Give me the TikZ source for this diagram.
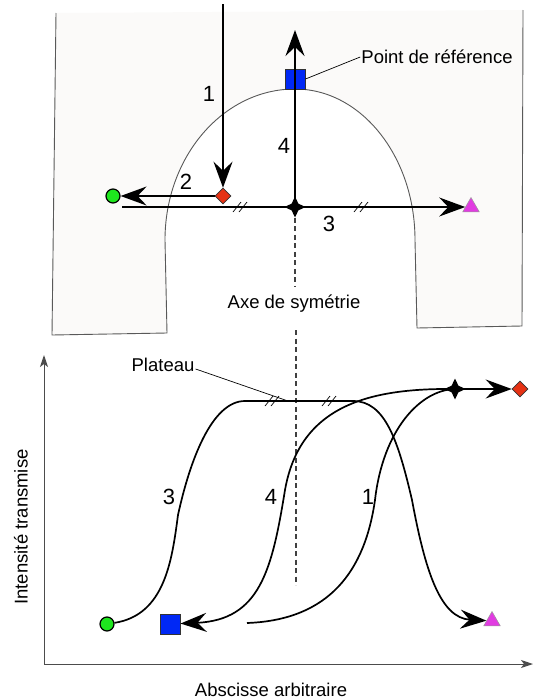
\documentclass[tikz,border=0pt]{standalone}
\usepackage{fontspec}
\setmainfont{Liberation Sans}
\usepackage{xcolor}
\usepackage{tikz}
\usetikzlibrary{arrows.meta, positioning, calc, shapes.geometric}

\definecolor{markgreen}{RGB}{30,230,30}
\definecolor{markblue}{RGB}{0,40,245}
\definecolor{markred}{RGB}{230,50,20}
\definecolor{markpink}{RGB}{225,60,225}
\definecolor{sheet}{RGB}{251,250,249}

\begin{document}
\begin{tikzpicture}[
    x=1pt, y=-1pt,
    every node/.style={font=\fontsize{18.5}{22}\selectfont},
    num/.style={font=\fontsize{22}{26}\selectfont, inner sep=1pt},
    lab/.style={inner sep=1pt},
    ptcirc/.style={circle, draw=black, line width=1.2pt, fill=markgreen, minimum size=14pt, inner sep=0pt},
    ptsq/.style={rectangle, draw=black!80, line width=1pt, fill=markblue, minimum size=20pt, inner sep=0pt},
    ptdia/.style={diamond, draw=black!80, line width=0.6pt, fill=markred, minimum size=16pt, inner sep=0pt},
    pttri/.style={regular polygon, regular polygon sides=3, draw=black!40, line width=0.5pt, fill=markpink, minimum size=19pt, inner sep=0pt},
    ptstar/.style={star, star points=4, star point ratio=2.2, fill=black, minimum size=21pt, inner sep=0pt},
    trace/.style={line width=1.7pt, -{Stealth[length=26pt, width=19pt, inset=9pt]}},
    axis/.style={line width=1pt, draw=black!70, -{Stealth[length=12pt, width=8pt, inset=3pt]}},
    symaxis/.style={line width=1.2pt, draw=black!75, dash pattern=on 5pt off 3.5pt},
    outline/.style={line width=0.9pt, draw=black!65},
    leader/.style={line width=0.7pt},
    hatch/.style={line width=0.7pt}
  ]
  \useasboundingbox (0,0) rectangle (534,699);

  % sample seen from above
  \fill[sheet] (56,13) -- (52,335) -- (167,333) -- (165,240)
    arc[start angle=180, end angle=270, x radius=130, y radius=151]
    arc[start angle=270, end angle=360, x radius=120, y radius=151]
    -- (417,328) -- (522,326) -- (523,10) -- cycle;
  \draw[outline] (56,13) -- (52,335) -- (167,333) -- (165,240)
    arc[start angle=180, end angle=270, x radius=130, y radius=151]
    arc[start angle=270, end angle=360, x radius=120, y radius=151]
    -- (417,328) -- (522,326) -- (523,10);

  \node[ptcirc] (circA) at (113,196) {};
  \node[ptdia] (diaA) at (223,196) {};
  \node[ptstar] (starA) at (295,207) {};
  \node[ptsq] (sqA) at (295,79) {};
  \node[pttri] (triA) at (471,207) {};
  \coordinate (topA) at (223,4);
  \coordinate (startC) at (122,207);
  \coordinate (topD) at (295,30);
  \coordinate (axisA) at (295,287);
  \coordinate (axisB) at (296,330);
  \coordinate (axisC) at (296,585);

  \draw[symaxis] (starA) -- (axisA);
  \draw[symaxis] (axisB) -- (axisC);
  \draw[trace] (topA) -- (diaA);
  \draw[trace] (diaA) -- (circA);
  \draw[trace] (startC) -- (triA);
  \draw[trace] (starA.center) -- (topD);

  \node[num] (n1A) at (209,94) {1};
  \node[num] (n4A) at (284,146) {4};
  \node[num] (n2A) at (186,182) {2};
  \node[num] (n3A) at (329,224) {3};
  \node[lab] (ref) at (437,57) {Point de référence};
  \draw[leader] (sqA.east) -- (ref.west);
  \node[lab] (axlab) at (294,304) {Axe de symétrie};

  % equal distances
  \foreach \hx/\hy in {240/207, 361/207, 272/401, 329/401}
    \foreach \i in {-3,3}
      \draw[hatch] (\hx+\i-4,\hy+5) -- (\hx+\i+4,\hy-5);

  % transmitted intensity
  \coordinate (orig) at (44,664);
  \coordinate (yend) at (44,355);
  \coordinate (xend) at (533,664);
  \draw[axis] (orig) -- (yend);
  \draw[axis] (orig) -- (xend);
  \node[lab, rotate=90] (ylab) at (21,527) {Intensité transmise};
  \node[lab, anchor=base] (xlab) at (271,696) {Abscisse arbitraire};

  \node[ptcirc] (circB) at (107,624) {};
  \node[ptsq] (sqB) at (170,624) {};
  \node[pttri] (triB) at (492,621) {};
  \node[ptstar] (starB) at (455,389) {};
  \node[ptdia] (diaB) at (520,389) {};
  \coordinate (startB) at (247,623);
  \coordinate (platL) at (245,401);
  \coordinate (platR) at (353,401);
  \coordinate (platpt) at (288,401);

  \node[lab] (plat) at (163,365) {Plateau};
  \draw[leader] (plat.mid east) -- (platpt);

  \draw[trace] (circB) .. controls (165,615) and (172,560) .. (178,515)
    .. controls (190,460) and (212,401) .. (platL) -- (platR)
    .. controls (385,401) and (398,440) .. (412,500)
    .. controls (425,570) and (440,618) .. (triB);
  \draw[trace] (startB) .. controls (330,620) and (365,570) .. (375,500)
    .. controls (383,430) and (420,390) .. (starB.center) -- (diaB);
  \draw[trace] (starB.center) .. controls (370,388) and (300,405) .. (285,490)
    .. controls (272,570) and (260,620) .. (sqB);

  \node[num] (n3B) at (169,497) {3};
  \node[num] (n4B) at (271,497) {4};
  \node[num] (n1B) at (368,497) {1};
\end{tikzpicture}
\end{document}
